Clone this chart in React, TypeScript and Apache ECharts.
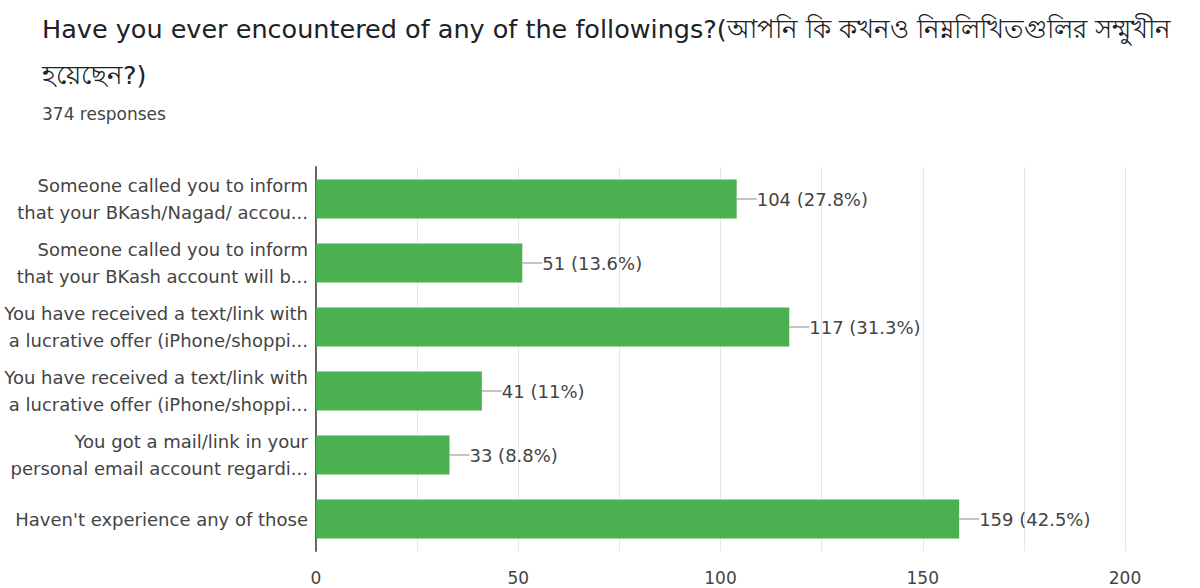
import React, { useEffect, useRef } from "react";
import * as echarts from "echarts";

const titleLine1 =
  "Have you ever encountered of any of the followings?(আপনি কি কখনও নিম্নলিখিতগুলির সম্মুখীন";
const titleLine2 = "হয়েছেন?)";
const subtitle = "374 responses";

const categories = [
  "Someone called you to inform\nthat your BKash/Nagad/ accou...",
  "Someone called you to inform\nthat your BKash account will b...",
  "You have received a text/link with\na lucrative offer (iPhone/shoppi...",
  "You have received a text/link with\na lucrative offer (iPhone/shoppi...",
  "You got a mail/link in your\npersonal email account regardi...",
  "Haven't experience any of those",
];
const counts = [104, 51, 117, 41, 33, 159];
const percents = ["27.8%", "13.6%", "31.3%", "11%", "8.8%", "42.5%"];
const xTicks = [0, 50, 100, 150, 200];

const FONT = "DejaVu Sans";

export default function App() {
  const ref = useRef<HTMLDivElement>(null);
  useEffect(() => {
    if (!ref.current) return;
    const chart = echarts.init(ref.current, undefined, { renderer: "svg" });
    chart.setOption({
      animation: false,
      backgroundColor: "#ffffff",
      title: [
        {
          text: titleLine1,
          left: 37,
          top: 11,
          textStyle: { fontFamily: FONT, fontSize: 25.5, fontWeight: "normal", color: "#202124" },
        },
        {
          text: titleLine2,
          left: 37,
          top: 57,
          textStyle: { fontFamily: FONT, fontSize: 25.5, fontWeight: "normal", color: "#202124" },
        },
        {
          text: subtitle,
          left: 37,
          top: 100,
          textStyle: { fontFamily: FONT, fontSize: 17, fontWeight: "normal", color: "#444" },
        },
      ],
      grid: { left: 316, right: 75, top: 167, bottom: 37, containLabel: false },
      xAxis: {
        type: "value",
        min: 0,
        max: 200,
        interval: 25,
        axisLine: { show: false },
        axisTick: { show: false },
        splitLine: { show: true, lineStyle: { color: "#e6e6e6", width: 1 } },
        axisLabel: {
          fontFamily: FONT,
          fontSize: 17,
          color: "#444",
          margin: 18,
          formatter: (v: number) => (xTicks.includes(v) ? String(v) : ""),
        },
      },
      yAxis: {
        type: "category",
        inverse: true,
        data: categories,
        axisTick: { show: false },
        axisLine: { show: true, lineStyle: { color: "#666", width: 2 } },
        axisLabel: {
          fontFamily: FONT,
          fontSize: 18,
          color: "#444",
          lineHeight: 27,
          margin: 8,
          align: "right",
        },
      },
      series: [
        {
          type: "bar",
          data: counts,
          barWidth: 39,
          itemStyle: { color: "#4caf50" },
          label: {
            show: true,
            position: "right",
            distance: 0,
            formatter: (p: any) => `{l|}{t|${counts[p.dataIndex]} (${percents[p.dataIndex]})}`,
            rich: {
              l: { width: 20, height: 1, backgroundColor: "#888" },
              t: { fontFamily: FONT, fontSize: 18, color: "#444" },
            },
          },
        },
      ],
    });
    return () => chart.dispose();
  }, []);
  return <div ref={ref} style={{ width: 1200, height: 588, position: "absolute", left: 0, top: 0 }} />;
}
